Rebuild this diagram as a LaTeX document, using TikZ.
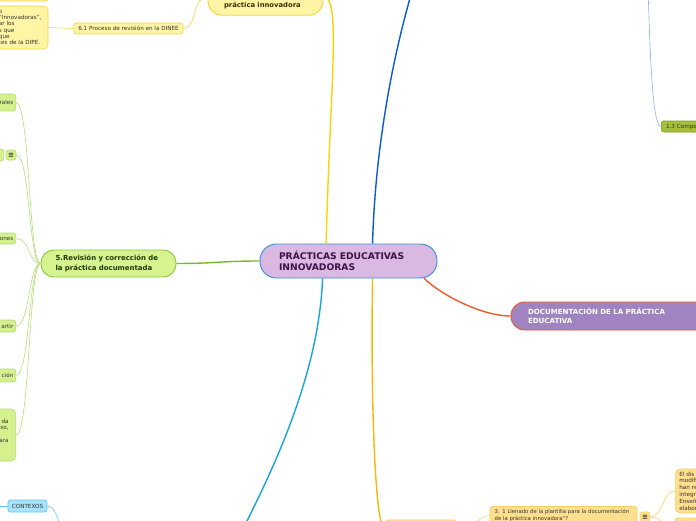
\documentclass[tikz,border=0pt]{standalone}
\usepackage{fontspec}
\setmainfont{DejaVu Sans}
\usetikzlibrary{positioning, calc}

\definecolor{rootfill}{HTML}{D9B8E2}
\definecolor{rootline}{HTML}{3D8FDB}
\definecolor{roottext}{HTML}{3B1346}
\definecolor{docfill}{HTML}{A084C1}
\definecolor{docline}{HTML}{F15A29}
\definecolor{revfill}{HTML}{D6F38F}
\definecolor{revline}{HTML}{8CC63E}
\definecolor{revtext}{HTML}{1C3A08}
\definecolor{revlink}{HTML}{7CB82F}
\definecolor{leaffill}{HTML}{D5F18E}
\definecolor{leafline}{HTML}{B5DB76}
\definecolor{ylwfill}{HTML}{FFF5A5}
\definecolor{ylwline}{HTML}{F2D53C}
\definecolor{ylwlink}{HTML}{F2D50A}
\definecolor{ylwtext}{HTML}{3A3000}
\definecolor{darkblue}{HTML}{0A5BD0}
\definecolor{skyblue}{HTML}{1AA3E0}
\definecolor{ctxfill}{HTML}{A8E3F9}
\definecolor{ctxline}{HTML}{5EC6EE}
\definecolor{compofill}{HTML}{A4BF3A}
\definecolor{compoline}{HTML}{7E9C25}
\definecolor{compolink}{HTML}{86AEF2}
\definecolor{orafill}{HTML}{FFDF8D}
\definecolor{oraline}{HTML}{F5CF66}
\definecolor{oralink}{HTML}{F5B90A}
\definecolor{smalltext}{HTML}{333333}

\begin{document}
\begin{tikzpicture}[
  x=0.85pt, y=-0.85pt,
  font=\fontsize{4.8}{5.4}\selectfont,
  topic/.style={draw, line width=0.8pt, align=left, inner ysep=0pt},
  subtopic/.style={draw, line width=0.5pt, rounded corners=2pt, inner ysep=0pt, text=smalltext},
  leaf/.style={subtopic, fill=leaffill, draw=leafline, anchor=east, text width=40pt, align=right, inner xsep=2pt},
  menu/.style={subtopic, minimum width=8.5pt, minimum height=8.5pt, inner sep=0pt, font=\fontsize{6}{6}\selectfont\bfseries},
  link/.style={line width=1.2pt},
  twig/.style={line width=0.5pt}
]
\useasboundingbox (0,0) rectangle (696,520);
\clip (0,0) rectangle (696,520);

%--------------------------------------
% Central topic and main branches
%--------------------------------------
\node[topic, fill=rootfill, draw=rootline, text=roottext, rounded corners=14pt,
  minimum width=150.45pt, minimum height=28.9pt, inner xsep=16.15pt, text width=118.15pt,
  font=\fontsize{7.8}{9}\selectfont\bfseries] (root) at (348.5,261) {PRÁCTICAS EDUCATIVAS\\INNOVADORAS};

\node[topic, fill=docfill, draw=docline, text=white, rounded corners=11.5pt,
  minimum width=170pt, minimum height=23.8pt, inner xsep=14.45pt, text width=141.1pt,
  font=\fontsize{6}{7.4}\selectfont\bfseries] (doc) at (611,316) {DOCUMENTACIÓN DE LA PRÁCTICA\\EDUCATIVA};

\node[topic, fill=revfill, draw=revline, text=revtext, rounded corners=11pt,
  minimum width=114.75pt, minimum height=22.95pt, inner xsep=12.4pt, text width=90pt,
  font=\fontsize{5.9}{7.9}\selectfont\bfseries] (rev) at (108.5,263.5) {5.Revisión y corrección de\\la práctica documentada};

\node[topic, fill=ylwfill, draw=ylwline, text=ylwtext, rounded corners=12pt,
  minimum width=97.75pt, minimum height=31pt, inner xsep=13.6pt, text width=70.55pt,
  font=\fontsize{5.8}{7.2}\selectfont\bfseries] (aprob) at (265.5,-3) {\strut\\\strut\\práctica innovadora};

%--------------------------------------
% Yellow branch
%--------------------------------------
\node[subtopic, fill=ylwfill, draw=ylwline, minimum width=92.65pt, minimum height=9.35pt, inner xsep=0pt] (dinee) at (128.5,28.5) {6.1 Proceso de revisión en la DINEE};
\node[subtopic, fill=ylwfill, draw=ylwline, rounded corners=4pt, minimum width=45.9pt, minimum height=36.55pt,
  inner xsep=4.25pt, text width=37.4pt, align=left, font=\fontsize{4.8}{5.36}\selectfont] (dipe) at (21,27.5) {o\\"Innovadoras",\\ar los\\s que\\que\\tes de la DIPE.};
\node[subtopic, fill=ylwfill, draw=ylwline, rounded corners=4pt, minimum width=51pt, minimum height=20pt] (revtop) at (20,-10.8) {};

%--------------------------------------
% Green branch
%--------------------------------------
\node[leaf, minimum height=14.45pt] (rales) at (16,102.5) {rales};
\node[leaf, minimum height=10.2pt] (revhide) at (4,155) {};
\node[menu, fill=leaffill, draw=leafline] (revmenu) at (11,155) {≡};
\node[leaf, minimum height=9.35pt] (ones) at (16,238.5) {ones};
\node[leaf, minimum height=10.2pt] (artir) at (16,326) {artir};
\node[leaf, minimum height=11pt] (cion) at (16,375.5) {ción};
\node[leaf, minimum height=44.2pt, inner xsep=6pt, rounded corners=4pt, font=\fontsize{4.8}{5.5}\selectfont] (dapara) at (16,435) {\strut\\da\\so,\\\strut\\ara\\\strut\\\strut};

%--------------------------------------
% Blue and orange branches
%--------------------------------------
\node[subtopic, fill=ctxfill, draw=ctxline, minimum width=33pt, minimum height=10.2pt] (contexos) at (27.5,506) {CONTEXOS};
\node[subtopic, fill=compofill, draw=compoline, text=black!80, anchor=west, minimum height=9.35pt,
  text width=52pt, align=left, inner xsep=4pt] (compo) at (661,126.5) {1.3 Compo};

\node[subtopic, fill=orafill, draw=oraline, anchor=north west, minimum width=60pt, minimum height=17pt] (paso3) at (385,519.6) {};
\node[subtopic, fill=orafill, draw=oraline, minimum width=125pt, minimum height=15.3pt, inner xsep=4pt,
  text width=117pt, align=left, font=\fontsize{4.5}{6}\selectfont] (llenado) at (563.5,515.5) {3. 1 Llenado de la plantilla para la documentación\\de la práctica innovadora"?};
\node[menu, fill=orafill, draw=oraline] (llenadomenu) at (645,517) {≡};
\node[subtopic, fill=orafill, draw=oraline, rounded corners=4pt, anchor=west, minimum height=37.4pt,
  text width=50pt, align=left, inner xsep=3.4pt, font=\fontsize{4.8}{5.8}\selectfont] (diseno) at (675,491) {El dis\\modifi\\han re\\integr\\Enseñ\\elabor};
\node[subtopic, fill=orafill, draw=oraline, anchor=north west, minimum width=50pt, minimum height=17pt] (plantilla) at (675,517.5) {};

% free ends beyond the page
\coordinate (bluetop) at (413,-12);
\coordinate (compotop) at (648,-12);
\coordinate (ctxhub) at (240,535);
\coordinate (ctxparent) at (60,532);
\coordinate (ctxleft) at (-10,506);

%--------------------------------------
% Connections
%--------------------------------------
\draw[link, docline] (root.-13) .. controls +(15,15) and +(-30,0) .. (doc.west);
\draw[link, revlink] (root.west) .. controls +(-40,0) and +(40,0) .. (rev.east);
\draw[link, ylwlink] (root.142) .. controls +(4,-160) and +(18,0) .. (aprob.east);
\draw[link, darkblue] (root.36) .. controls +(3,-110) and +(-15,50) .. (bluetop);
\draw[link, skyblue] (root.-146) .. controls +(-4,100) and +(30,-60) .. (ctxhub);
\draw[link, oralink] (root.-36) .. controls +(-2,120) and +(-10,0) .. (paso3.west);

\draw[twig, ylwline] (dinee.east) .. controls +(14,0) and +(-16,0) .. (aprob.west);
\draw[twig, ylwline] (dinee.west) -- (dipe.east);

\foreach \leafname in {rales, revmenu, ones, artir, cion, dapara}
  \draw[twig, leafline] (rev.west) .. controls +(-12,0) and +(14,0) .. (\leafname.east);

\draw[twig, compolink] (compo.west) .. controls +(-9,0) and +(2,60) .. (compotop);
\draw[twig, ctxline] (contexos.east) .. controls +(8,0) and +(0,-10) .. (ctxparent);
\draw[twig, ctxline] (contexos.west) -- (ctxleft);

\draw[twig, oraline] (paso3.east) .. controls +(20,0) and +(-12,0) .. (llenado.west);
\draw[twig, oraline] (llenadomenu.east) .. controls +(12,0) and +(-12,0) .. (diseno.west);
\draw[twig, oraline] (llenadomenu.east) .. controls +(12,0) and +(-12,0) .. (plantilla.west);

\end{tikzpicture}
\end{document}
